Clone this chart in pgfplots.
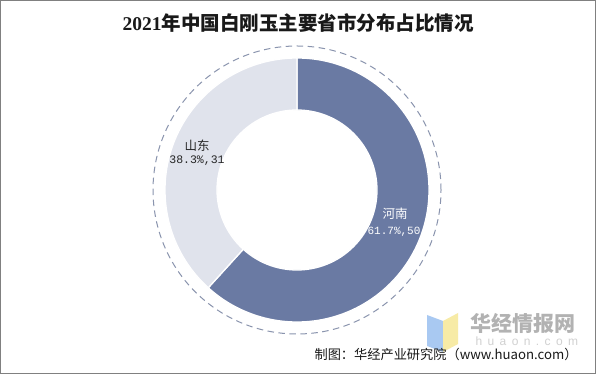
\documentclass[border=0pt]{standalone}
\usepackage{pgfplots}
\pgfplotsset{compat=1.18}
\usepackage{pgfplotstable}
\usepackage{fontspec}
\setmainfont{Liberation Sans}
\newfontfamily\cjk{Noto Sans CJK SC}
\newfontfamily\serifb{Liberation Serif}
\newfontfamily\mono{Liberation Mono}
\definecolor{cA}{HTML}{6A7AA3}
\definecolor{cB}{HTML}{E0E3EC}
\definecolor{cDash}{HTML}{8A94AE}
\definecolor{logoBlue}{HTML}{A9C9F2}
\definecolor{logoYellow}{HTML}{F7EBA6}
\pgfplotstableread{
name value
Henan 50
Shandong 31
}\datatable
\begin{document}
\begin{tikzpicture}[x=1pt,y=1pt]
\useasboundingbox (0,0) rectangle (596,374);
\fill[white] (0,0) rectangle (596,374);
\pgfplotstablegetelem{0}{value}\of\datatable \let\va\pgfplotsretval
\pgfplotstablegetelem{1}{value}\of\datatable \let\vb\pgfplotsretval
\pgfmathsetmacro\fracA{\va/(\va+\vb)}
\pgfmathsetmacro\fracB{\vb/(\va+\vb)}
\pgfmathsetmacro\angA{90-360*\fracA}
\pgfmathsetmacro\angB{\angA-360*\fracB}
\begin{axis}[at={(297pt,184pt)}, anchor=center, x=132pt, y=132pt,
  xmin=-1.15, xmax=1.15, ymin=-1.15, ymax=1.15, hide axis, scale only axis]
\path (axis cs:0,0) coordinate (O);
\draw[cDash, line width=1pt, dash pattern=on 6.5pt off 4.5pt] (O) circle[radius=144pt];
\fill[cA, draw=white, line width=1.3pt] ([shift={(90:132pt)}]O) arc[start angle=90, end angle=\angA, radius=132pt]
  -- ([shift={(\angA:80pt)}]O) arc[start angle=\angA, end angle=90, radius=80pt] -- cycle;
\fill[cB, draw=white, line width=1.3pt] ([shift={(\angA:132pt)}]O) arc[start angle=\angA, end angle=\angB, radius=132pt]
  -- ([shift={(\angB:80pt)}]O) arc[start angle=\angB, end angle=\angA, radius=80pt] -- cycle;
\end{axis}
% labels
\node[font=\cjk\fontsize{12.5}{14}\selectfont, text=black!85] at (197,228) {山东};
\node[font=\mono\fontsize{11.5}{13}\selectfont, text=black!85] at (197,213) {38.3\%,31};
\node[font=\cjk\fontsize{12.5}{14}\selectfont, text=white] at (395,160) {河南};
\node[font=\mono\fontsize{11}{13}\selectfont, text=white] at (394,142) {61.7\%,50};
% title
\node[font=\cjk\bfseries\fontsize{19.5}{22}\selectfont, text=black!90] at (298,351) {{\serifb\bfseries 2021}年中国白刚玉主要省市分布占比情况};
% watermark
\fill[logoBlue] (427,59) -- (443,53) -- (443,22) -- (427,28) -- cycle;
\fill[logoYellow] (443,53) -- (458,61) -- (458,30) -- (443,22) -- cycle;
\node[font=\cjk\bfseries\fontsize{21}{24}\selectfont, text=black!30, anchor=west] at (467,50) {华经情报网};
\node[font=\fontsize{12}{14}\selectfont\addfontfeature{LetterSpace=45}, text=black!18, anchor=west] at (472,33) {huaon.com};
% footer
\node[font=\cjk\fontsize{13.2}{15}\selectfont, text=black!90, anchor=east] at (581,20) {制图：华经产业研究院（www.huaon.com）};
\draw[black!50, line width=1.2pt] (0.6,0.6) rectangle (595.4,373.4);
\end{tikzpicture}
\end{document}
